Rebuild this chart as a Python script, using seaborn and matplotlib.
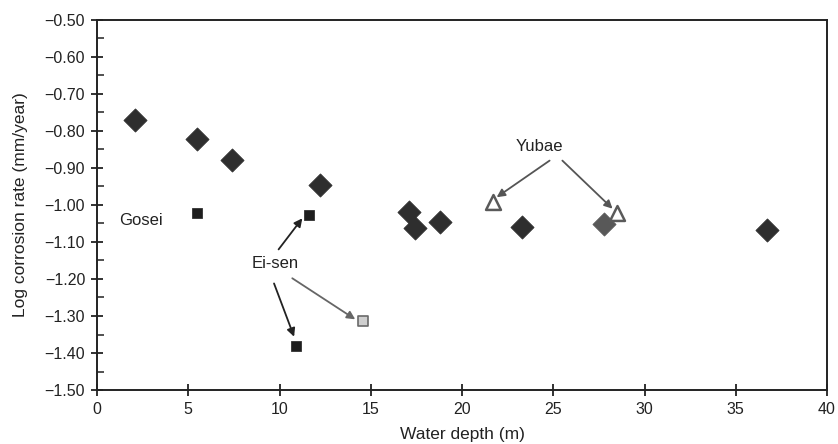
import matplotlib
matplotlib.use("Agg")
import matplotlib.pyplot as plt
import seaborn as sns
import pandas as pd
import numpy as np
from matplotlib.ticker import MultipleLocator, FuncFormatter

# ---- data ----
main_depth = [2.1, 5.5, 7.4, 12.2, 17.1, 17.4, 18.8, 23.3, 36.7]
main_rate = [-0.770, -0.822, -0.878, -0.946, -1.018, -1.063, -1.045, -1.059, -1.068]

yubae_diamond_depth = [27.8]
yubae_diamond_rate = [-1.052]

yubae_tri_depth = [21.7, 28.5]
yubae_tri_rate = [-0.991, -1.022]

gosei_depth = [5.5]
gosei_rate = [-1.021]

eisen_depth = [11.6, 10.9]
eisen_rate = [-1.026, -1.381]

eisen_gray_depth = [14.6]
eisen_gray_rate = [-1.314]

x_ticks = [0, 5, 10, 15, 20, 25, 30, 35, 40]
y_ticks = [-0.50, -0.60, -0.70, -0.80, -0.90, -1.00, -1.10, -1.20, -1.30, -1.40, -1.50]

sns.set_theme(style="white")
plt.rcParams['font.family'] = ['Liberation Sans', 'DejaVu Sans']
plt.rcParams['axes.unicode_minus'] = True

fig = plt.figure(figsize=(8.38, 4.44), dpi=100)
ax = fig.add_axes([97/838, 1 - 390/444, (827-97)/838, (390-20)/444])

dark = "#2e2e2e"
sns.scatterplot(x=main_depth, y=main_rate, marker="D", s=140, color=dark,
                edgecolor=dark, linewidth=0.5, ax=ax, legend=False, zorder=3)
sns.scatterplot(x=yubae_diamond_depth, y=yubae_diamond_rate, marker="D", s=140,
                color="#585858", edgecolor="#585858", linewidth=0.5, ax=ax,
                legend=False, zorder=3)
sns.scatterplot(x=yubae_tri_depth, y=yubae_tri_rate, marker="^", s=115,
                facecolor="white", edgecolor="#5a5a5a", linewidth=1.8, ax=ax,
                legend=False, zorder=4)
sns.scatterplot(x=gosei_depth, y=gosei_rate, marker="s", s=50, color="#1e1e1e",
                edgecolor="#1e1e1e", linewidth=0.5, ax=ax, legend=False, zorder=3)
sns.scatterplot(x=eisen_depth, y=eisen_rate, marker="s", s=50, color="#1e1e1e",
                edgecolor="#1e1e1e", linewidth=0.5, ax=ax, legend=False, zorder=3)
sns.scatterplot(x=eisen_gray_depth, y=eisen_gray_rate, marker="s", s=50,
                facecolor="#cfcfcf", edgecolor="#6a6a6a", linewidth=1.2, ax=ax,
                legend=False, zorder=3)

ax.set_xlim(0, 40)
ax.set_ylim(-1.50, -0.50)
ax.set_xticks(x_ticks)
ax.set_yticks(y_ticks)
ax.yaxis.set_major_formatter(FuncFormatter(lambda v, p: f"{v:.2f}".replace("-", "\u2212")))
ax.yaxis.set_minor_locator(MultipleLocator(0.05))

ax.tick_params(axis="both", which="major", direction="inout", length=9, width=1.3,
               labelsize=11.5, colors="#222222", pad=4)
ax.tick_params(axis="y", which="minor", direction="in", length=5, width=1.1,
               left=True, colors="#222222")
ax.tick_params(left=True, bottom=True)

for sp in ax.spines.values():
    sp.set_visible(True)
    sp.set_color("#222222")
    sp.set_linewidth(1.4)

ax.set_xlabel("Water depth (m)", fontsize=12.5, color="#222222", labelpad=7)
ax.set_ylabel("Log corrosion rate (mm/year)", fontsize=12.5, color="#222222", labelpad=12)

# ---- annotations ----
ax.text(2.4, -1.043, "Gosei", fontsize=12, color="#222222", ha="center", va="center")

ax.text(9.75, -1.158, "Ei-sen", fontsize=12, color="#222222", ha="center", va="center")
ax.annotate("", xy=(eisen_depth[0] - 0.35, eisen_rate[0] - 0.01), xytext=(9.95, -1.12),
            arrowprops=dict(arrowstyle="-|>", color="#222222", lw=1.3,
                            mutation_scale=12, shrinkA=0, shrinkB=0))
ax.annotate("", xy=(eisen_depth[1] - 0.1, eisen_rate[1] + 0.025), xytext=(9.7, -1.212),
            arrowprops=dict(arrowstyle="-|>", color="#222222", lw=1.3,
                            mutation_scale=12, shrinkA=0, shrinkB=0))
ax.annotate("", xy=(eisen_gray_depth[0] - 0.45, eisen_gray_rate[0] + 0.005),
            xytext=(10.7, -1.198),
            arrowprops=dict(arrowstyle="-|>", color="#666666", lw=1.3,
                            mutation_scale=12, shrinkA=0, shrinkB=0))

ax.text(24.25, -0.842, "Yubae", fontsize=12, color="#222222", ha="center", va="center")
ax.annotate("", xy=(yubae_tri_depth[0] + 0.2, yubae_tri_rate[0] + 0.012),
            xytext=(24.8, -0.880),
            arrowprops=dict(arrowstyle="-|>", color="#555555", lw=1.3,
                            mutation_scale=12, shrinkA=0, shrinkB=0))
ax.annotate("", xy=(yubae_tri_depth[1] - 0.25, yubae_tri_rate[1] + 0.012),
            xytext=(25.5, -0.880),
            arrowprops=dict(arrowstyle="-|>", color="#555555", lw=1.3,
                            mutation_scale=12, shrinkA=0, shrinkB=0))

fig.savefig("out.png", dpi=100)
